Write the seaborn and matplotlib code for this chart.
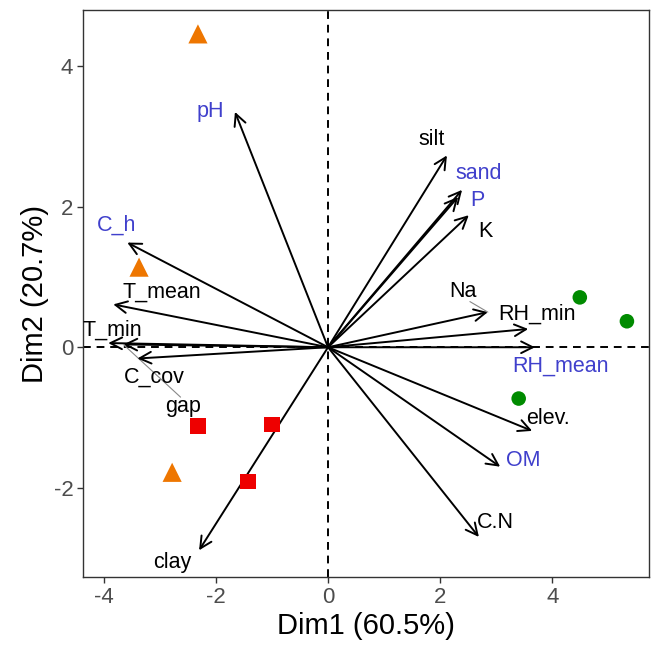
import matplotlib
matplotlib.use("Agg")
import matplotlib.pyplot as plt
import seaborn as sns
import pandas as pd

# --- data -------------------------------------------------------------
grp_A_x = [-2.32, -3.37, -2.78]
grp_A_y = [4.46, 1.14, -1.78]
grp_B_x = [-2.32, -1.00, -1.43]
grp_B_y = [-1.12, -1.10, -1.91]
grp_C_x = [4.49, 5.33, 3.40]
grp_C_y = [0.71, 0.37, -0.73]

var_names = ["pH", "C_h", "T_mean", "T_min", "gap", "C_cov", "clay", "silt",
             "sand", "P", "K", "Na", "RH_min", "RH_mean", "elev.", "OM", "C.N"]
var_x = [-1.66, -3.58, -3.83, -3.92, -3.65, -3.40, -2.30, 2.12,
         2.39, 2.32, 2.51, 2.85, 3.57, 3.69, 3.64, 3.07, 2.69]
var_y = [3.35, 1.49, 0.61, 0.06, 0.04, -0.16, -2.89, 2.73,
         2.24, 2.14, 1.88, 0.50, 0.26, 0.00, -1.19, -1.70, -2.70]
lab_x = [-2.10, -3.78, -2.96, -3.85, -2.58, -3.10, -2.78, 1.85,
         2.69, 2.66, 2.80, 2.41, 3.73, 4.15, 3.92, 3.49, 2.99]
lab_y = [3.35, 1.74, 0.78, 0.24, -0.85, -0.43, -3.07, 2.96,
         2.48, 2.09, 1.65, 0.80, 0.47, -0.27, -1.02, -1.61, -2.49]
blue_vars = ["pH", "C_h", "sand", "P", "RH_mean", "OM"]
repel_vars = ["gap", "Na"]

xlabel = "Dim1 (60.5%)"
ylabel = "Dim2 (20.7%)"

# --- plot -------------------------------------------------------------
sns.set_theme(style="white")
plt.rcParams["font.family"] = ["Liberation Sans", "DejaVu Sans"]
plt.rcParams["axes.unicode_minus"] = False

fig = plt.figure(figsize=(6.56, 6.46), dpi=100)
ax = fig.add_axes([0.1265, 0.1068, 0.8625, 0.8777])

ax.axhline(0, color="black", ls=(0, (4, 3)), lw=1.4, zorder=1)
ax.axvline(0, color="black", ls=(0, (4, 3)), lw=1.4, zorder=1)

dfA = pd.DataFrame({"x": grp_A_x, "y": grp_A_y})
dfB = pd.DataFrame({"x": grp_B_x, "y": grp_B_y})
dfC = pd.DataFrame({"x": grp_C_x, "y": grp_C_y})
sns.scatterplot(data=dfA, x="x", y="y", marker="^", s=190, color="#EE7600",
                edgecolor="none", ax=ax, zorder=3)
sns.scatterplot(data=dfB, x="x", y="y", marker="s", s=130, color="#EE0000",
                edgecolor="none", ax=ax, zorder=3)
sns.scatterplot(data=dfC, x="x", y="y", marker="o", s=110, color="#008B00",
                edgecolor="none", ax=ax, zorder=3)

for name, vx, vy, lx, ly in zip(var_names, var_x, var_y, lab_x, lab_y):
    ax.annotate("", xy=(vx, vy), xytext=(0, 0),
                arrowprops=dict(arrowstyle="->,head_length=0.7,head_width=0.35",
                                color="black", lw=1.4, shrinkA=0, shrinkB=0),
                zorder=2)
    if name in repel_vars:
        ax.plot([lx + (0.12 if name == "Na" else -0.05), vx],
                [ly - (0.15 if name == "Na" else -0.14), vy],
                color="#888888", lw=0.8, zorder=2)
    col = "#4040CC" if name in blue_vars else "black"
    ax.text(lx, ly, name, color=col, fontsize=15.5, ha="center", va="center",
            zorder=4)

ax.set_xlim(-4.37, 5.72)
ax.set_ylim(-3.27, 4.80)
ax.set_xticks([-4, -2, 0, 2, 4])
ax.set_yticks([-2, 0, 2, 4])
ax.set_xlabel(xlabel, fontsize=21, color="black", labelpad=3)
ax.set_ylabel(ylabel, fontsize=21, color="black", labelpad=3)
ax.tick_params(axis="both", labelsize=16, labelcolor="#4D4D4D", color="#333333",
               length=4, width=1, direction="out", bottom=True, left=True, pad=3)
for sp in ax.spines.values():
    sp.set_color("#333333")
    sp.set_linewidth(1.0)

fig.savefig("out.png", dpi=100)
